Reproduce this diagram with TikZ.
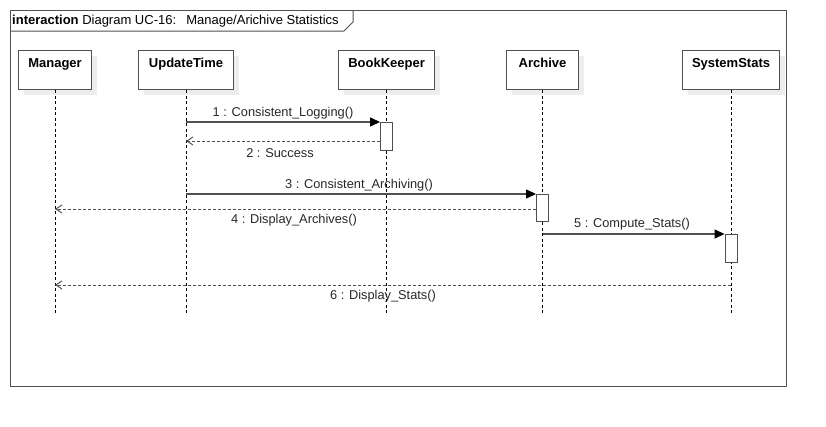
\documentclass[tikz,border=0pt]{standalone}
\usepackage{fontspec}
\setmainfont{Liberation Sans}
\usetikzlibrary{arrows.meta}
\definecolor{ln}{RGB}{80,80,80}
\definecolor{txt}{RGB}{40,40,40}
\begin{document}
\begin{tikzpicture}[x=1pt,y=-1pt,
  lifebox/.style={draw=ln,line width=1.1pt,fill=white,minimum height=39pt,inner sep=0pt,anchor=north west,text depth=15pt,font=\fontsize{13}{15}\selectfont\bfseries,text=black},
  lifeline/.style={draw=black,dashed,dash pattern=on 3pt off 2.5pt,line width=0.6pt},
  actbox/.style={draw=ln,line width=1pt,fill=white,minimum width=12pt,inner sep=0pt,anchor=north},
  callmsg/.style={draw=ln,line width=1.1pt,-{Triangle[length=10pt,width=9pt,color=black]}},
  retmsg/.style={draw=ln,line width=1pt,dash pattern=on 3pt off 2pt,-{Straight Barb[length=6pt,width=8pt]}},
  msglabel/.style={font=\fontsize{12.8}{15}\selectfont,text=txt,inner sep=0pt}]
\useasboundingbox (0,0) rectangle (826,426);
\fill[white] (0,0) rectangle (826,426);
% frame
\draw[ln,line width=1pt] (10,10) rectangle (786,386);
\draw[ln,line width=1pt] (10,31) -- (344,31) -- (353,22) -- (353,10);
\node[anchor=west,inner sep=0pt,font=\fontsize{13}{15}\selectfont,text=black] (title) at (12,21.5) {\textbf{interaction} Diagram UC-16:\enspace\ Manage/Arichive Statistics};
% shadows
\foreach \a/\b in {18/91,138/233,338/434,506/578,682/779}{
  \fill[black!7] (\a+6,56) rectangle (\b+6,95);
}
% lifeline boxes
\node[lifebox,minimum width=73pt] (mgr) at (18,50) {Manager};
\node[lifebox,minimum width=95pt] (upd) at (138,50) {UpdateTime};
\node[lifebox,minimum width=96pt] (bk) at (338,50) {BookKeeper};
\node[lifebox,minimum width=72pt] (arc) at (506,50) {Archive};
\node[lifebox,minimum width=97pt] (sys) at (682,50) {SystemStats};
% lifeline end coordinates
\coordinate (mgrE) at (mgr.south |- 0,315);
\coordinate (updE) at (upd.south |- 0,315);
\coordinate (bkE) at (bk.south |- 0,315);
\coordinate (arcE) at (arc.south |- 0,315);
\coordinate (sysE) at (sys.south |- 0,315);
\draw[lifeline] (mgr.south) -- (mgrE);
\draw[lifeline] (upd.south) -- (updE);
\draw[lifeline] (bk.south) -- (bkE);
\draw[lifeline] (arc.south) -- (arcE);
\draw[lifeline] (sys.south) -- (sysE);
% activations
\node[actbox,minimum height=28pt] (a1) at (bk.south |- 0,122) {};
\node[actbox,minimum height=27pt] (a2) at (arc.south |- 0,194) {};
\node[actbox,minimum height=28pt] (a3) at (sys.south |- 0,234) {};
% messages
\coordinate (m1s) at (upd.south |- a1.north);
\draw[callmsg] (m1s) -- (a1.north west);
\node[msglabel] (l1) at (283,113) {1 : Consistent\_Logging()};
\coordinate (m2s) at (a1.west |- 0,141);
\coordinate (m2e) at (upd.south |- 0,141);
\draw[retmsg] (m2s) -- (m2e);
\node[msglabel] (l2) at (280,153) {2 : Success};
\coordinate (m3s) at (upd.south |- a2.north);
\draw[callmsg] (m3s) -- (a2.north west);
\node[msglabel] (l3) at (359,185) {3 : Consistent\_Archiving()};
\coordinate (m4s) at (a2.west |- 0,209);
\coordinate (m4e) at (mgr.south |- 0,209);
\draw[retmsg] (m4s) -- (m4e);
\node[msglabel] (l4) at (294,220) {4 : Display\_Archives()};
\coordinate (m5s) at (a2.south |- a3.north);
\draw[callmsg] (m5s) -- (a3.north west);
\node[msglabel] (l5) at (632,224.5) {5 : Compute\_Stats()};
\coordinate (m6s) at (sys.south |- 0,285);
\coordinate (m6e) at (mgr.south |- 0,285);
\draw[retmsg] (m6s) -- (m6e);
\node[msglabel] (l6) at (383,296) {6 : Display\_Stats()};
\end{tikzpicture}
\end{document}
